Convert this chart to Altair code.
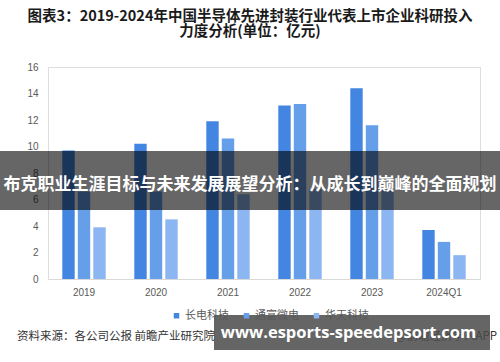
import altair as alt
import pandas as pd

categories = ["2019", "2020", "2021", "2022", "2023", "2024Q1"]
series_names = ["长电科技", "通富微电", "华天科技"]
changdian = [9.7, 10.2, 11.9, 13.1, 14.4, 3.7]
tongfu = [6.6, 6.6, 10.6, 13.2, 11.6, 2.8]
huatian = [3.9, 4.5, 6.4, 6.8, 6.7, 1.8]
colors = ["#4286e2", "#659ee9", "#8cb6f1"]
y_ticks = [0, 2, 4, 6, 8, 10, 12, 14, 16]

title_lines = ["图表3：2019-2024年中国半导体先进封装行业代表上市企业科研投入", "力度分析(单位：亿元)"]
source_left = "资料来源：各公司公报 前瞻产业研究院"
source_right = "@前瞻经济学人APP"
banner_text = "布克职业生涯目标与未来发展展望分析：从成长到巅峰的全面规划"
watermark_text = "www.esports-speedepsort.com"

rows = []
for name, vals in zip(series_names, [changdian, tongfu, huatian]):
    for c, v in zip(categories, vals):
        rows.append({"year": c, "company": name, "value": v})
df = pd.DataFrame(rows)

FONT = "Noto Sans CJK SC"
one = alt.Data(values=[{"a": 1}])

bars = alt.Chart(df).mark_bar().encode(
    x=alt.X("year:N", sort=categories, title=None,
            scale=alt.Scale(paddingInner=0.354, paddingOuter=0.177),
            axis=alt.Axis(labelAngle=0, ticks=False, domainColor="#d9d9d9",
                          labelColor="#595959", labelFontSize=10, labelFont="Liberation Sans",
                          labelPadding=8, grid=False)),
    xOffset=alt.XOffset("company:N", sort=series_names,
                        scale=alt.Scale(paddingInner=0.2, paddingOuter=0.1)),
    y=alt.Y("value:Q", title=None, scale=alt.Scale(domain=[0, 16], nice=False),
            axis=alt.Axis(values=y_ticks, ticks=False, domain=False, grid=False,
                          labelColor="#595959", labelFontSize=10, labelFont="Liberation Sans",
                          labelPadding=10)),
    color=alt.Color("company:N", sort=series_names,
                    scale=alt.Scale(domain=series_names, range=colors),
                    legend=alt.Legend(title=None, orient="none", direction="horizontal",
                                      legendX=123, legendY=243, symbolType="square",
                                      symbolSize=30, symbolStrokeWidth=0,
                                      labelFont=FONT, labelFontSize=11, labelColor="#595959",
                                      columnPadding=12, labelOffset=3)),
)

def text_layer(txt, x, y, size, color, weight="normal", align="center", font=FONT):
    return alt.Chart(one).mark_text(text=txt, fontSize=size, color=color, fontWeight=weight,
                                    align=align, baseline="middle", font=font).encode(
        x=alt.value(x), y=alt.value(y))

def rect_layer(x, x2, y, y2, color, opacity):
    return alt.Chart(one).mark_rect(color=color, opacity=opacity).encode(
        x=alt.value(x), x2=alt.value(x2), y=alt.value(y), y2=alt.value(y2))

title1 = text_layer(title_lines[0], 202, -50, 14.5, "#1a1a1a", "bold")
title2 = text_layer(title_lines[1], 202, -35, 14.5, "#1a1a1a", "bold")
src_l = text_layer(source_left, -31, 270, 11.5, "#333333", align="left")
src_r = text_layer(source_right, 449, 270, 11.5, "#333333", align="right")
banner = rect_layer(-48, 452, 84, 143, "#000000", 0.6)
banner_t = text_layer(banner_text, 202, 118, 17, "#ffffff", "bold")
wm_box = rect_layer(166, 442, 248, 283, "#4a4a4a", 0.85)
wm_t = text_layer(watermark_text, 300.5, 266, 16.5, "#ffffff", "bold", font="Open Sans")

chart = alt.layer(bars, title1, title2, src_l, src_r, banner, banner_t, wm_box, wm_t).properties(
    width=432, height=212,
    autosize=alt.AutoSizeParams(type="none"),
    padding={"left": 48, "top": 67, "right": 20, "bottom": 83},
).configure_view(stroke=None).configure(background="#ffffff")

chart.save("out.html", embed_options={"renderer": "svg", "actions": False})
